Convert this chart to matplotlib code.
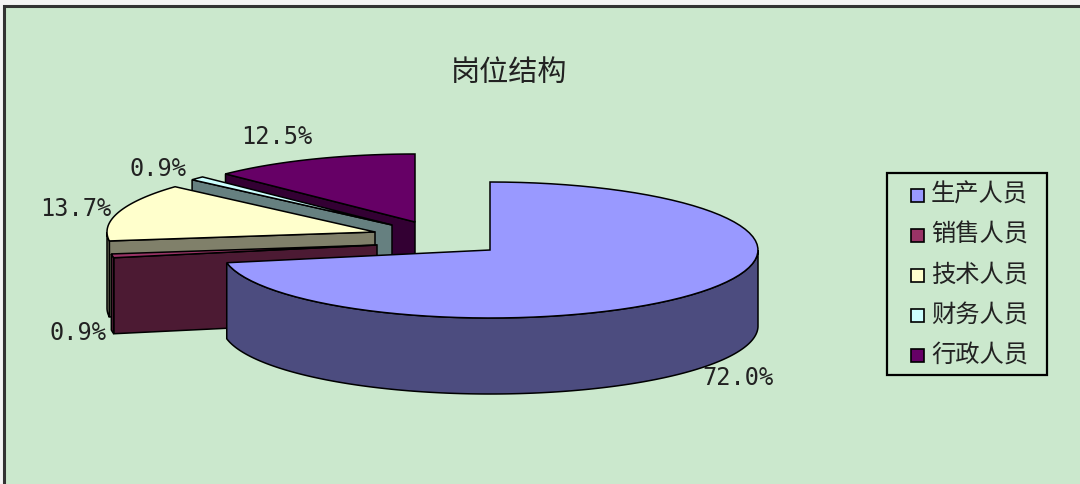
import numpy as np
import matplotlib
matplotlib.use('Agg')
import matplotlib.pyplot as plt
from matplotlib.patches import Polygon, Rectangle

plt.rcParams['font.family'] = ['Noto Sans CJK SC', 'DejaVu Sans']

# data
title = '岗位结构'
categories = ['生产人员', '销售人员', '技术人员', '财务人员', '行政人员']
shares = [72.0, 0.9, 13.7, 0.9, 12.5]
pct_labels = ['72.0%', '0.9%', '13.7%', '0.9%', '12.5%']

# excel-like classic palette (top face, side face)
top_colors = ['#9999FF', '#993366', '#FFFFCC', '#CCFFFF', '#660066']
side_colors = ['#4C4C7F', '#4C1A33', '#80806A', '#668080', '#330033']
bg = '#CBE8CD'

# pie geometry (pixels)
CX, CY = 490, 250
A, B, H = 268, 68, 76
explode_px = [(0, 0), (-113, -5), (-115, -18), (-98, -25), (-75, -28)]
label_k = [1.2, 1.13, 1.17, 1.2, 1.35]

fig = plt.figure(figsize=(10.8, 4.84), dpi=100)
fig.patch.set_facecolor('#F4F4F4')
ax = fig.add_axes([0, 0, 1, 1])
ax.set_xlim(0, 1080)
ax.set_ylim(484, 0)
ax.axis('off')

ax.add_patch(Rectangle((4, 6), 1090, 490, facecolor=bg, edgecolor='#333333', lw=2.2, zorder=0))


def pt(cx, cy, t, dz=0):
    r = np.radians(t)
    return cx + A * np.cos(r), cy - B * np.sin(r) + dz


def arc(cx, cy, t0, t1, dz=0, n=80):
    ts = np.linspace(t0, t1, n)
    return [pt(cx, cy, t, dz) for t in ts]


# slice angles, starting at 90 deg and going clockwise
bounds = []
start = 90.0
for s in shares:
    end = start - s * 3.6
    bounds.append((start, end))
    start = end

zorder = 1
draw_order = [4, 3, 2, 1, 0]  # back to front
for i in draw_order:
    ts, te = bounds[i]
    cx, cy = CX + explode_px[i][0], CY + explode_px[i][1]
    faces = []
    # radial cut faces
    if np.cos(np.radians(ts)) < -1e-6:
        faces.append([(cx, cy), pt(cx, cy, ts), pt(cx, cy, ts, H), (cx, cy + H)])
    if np.cos(np.radians(te)) > 1e-6:
        faces.append([(cx, cy), pt(cx, cy, te), pt(cx, cy, te, H), (cx, cy + H)])
    # outer rim, front-facing part only
    tt = np.linspace(te, ts, 400)
    vis = np.sin(np.radians(tt)) <= 0
    runs = []
    cur = []
    for t, v in zip(tt, vis):
        if v:
            cur.append(t)
        elif cur:
            runs.append(cur)
            cur = []
    if cur:
        runs.append(cur)
    for run in runs:
        if len(run) < 2:
            continue
        top = [pt(cx, cy, t) for t in run]
        bot = [pt(cx, cy, t, H) for t in run[::-1]]
        faces.append(top + bot)
    for f in faces:
        ax.add_patch(Polygon(f, closed=True, facecolor=side_colors[i], edgecolor='black', lw=1.1, zorder=zorder))
        zorder += 1
    topface = [(cx, cy)] + arc(cx, cy, ts, te)
    ax.add_patch(Polygon(topface, closed=True, facecolor=top_colors[i], edgecolor='black', lw=1.1, zorder=zorder))
    zorder += 1

# percentage labels
for i, lab in enumerate(pct_labels):
    ts, te = bounds[i]
    m = np.radians((ts + te) / 2)
    cx, cy = CX + explode_px[i][0], CY + explode_px[i][1]
    k = label_k[i]
    x = cx + A * k * np.cos(m)
    y = cy - B * k * np.sin(m)
    if np.sin(m) < 0:
        y += H
    ax.text(x, y, lab, ha='center', va='center', fontsize=17, color='#222222',
            family=['DejaVu Sans Mono'], zorder=100)

ax.text(509, 73, title, ha='center', va='center', fontsize=21, color='#222222', zorder=100)

# legend box
lx0, ly0, lw_, lh_ = 887, 173, 160, 202
ax.add_patch(Rectangle((lx0, ly0), lw_, lh_, facecolor=bg, edgecolor='black', lw=1.6, zorder=200))
row_h = 40
for j, (name, c) in enumerate(zip(categories, top_colors)):
    yc = ly0 + 22 + j * row_h
    ax.add_patch(Rectangle((911, yc - 6.5), 13, 13, facecolor=c, edgecolor='black', lw=1.2, zorder=201))
    ax.text(931, yc, name, ha='left', va='center', fontsize=17.5, color='#222222', zorder=201)

plt.savefig('out.png', dpi=100)
